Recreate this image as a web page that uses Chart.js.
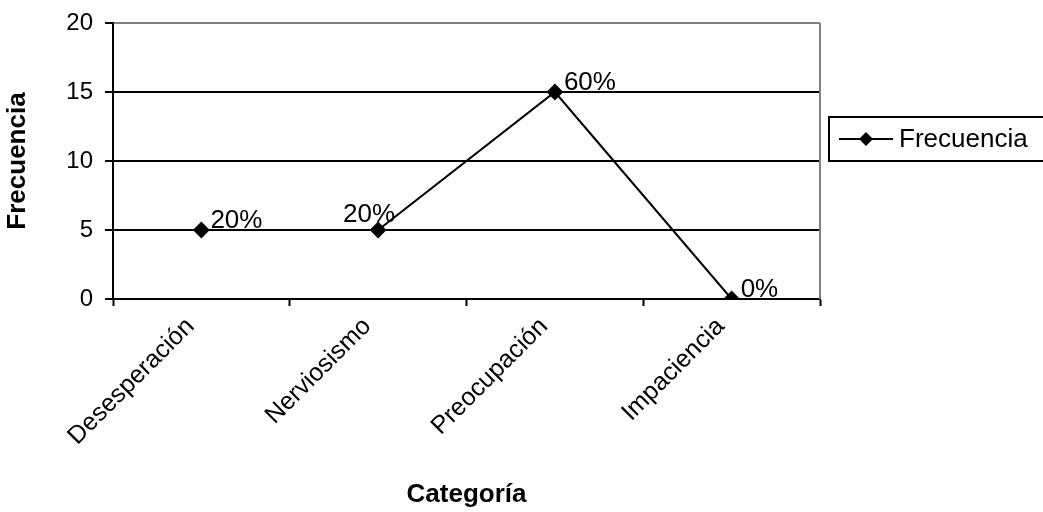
<!DOCTYPE html>
<html>
<head>
<meta charset="utf-8">
<script src="https://cdn.jsdelivr.net/npm/chart.js@4/dist/chart.umd.min.js"></script>
<style>
  html, body { margin: 0; padding: 0; background: #fff; }
  #wrap { width: 1043px; height: 512px; }
</style>
</head>
<body>
<div id="wrap"><canvas id="lineChart" width="1043" height="512"></canvas></div>
<script>
// Data
const categories = ['Desesperación', 'Nerviosismo', 'Preocupación', 'Impaciencia'];
const frecuencia = [5, 5, 15, 0];
const percentLabels = ['20%', '20%', '60%', '0%'];
const yTicks = [0, 5, 10, 15, 20];

const FONT = "'Liberation Sans', Arial, sans-serif";

// point labels like "20%" next to the markers
const pointLabels = {
    id: 'pointLabels',
    afterDatasetsDraw(chart) {
        const ctx = chart.ctx;
        const meta = chart.getDatasetMeta(0);
        ctx.save();
        ctx.font = '26px ' + FONT;
        ctx.fillStyle = '#000';
        ctx.textBaseline = 'alphabetic';
        meta.data.forEach(function (pt, i) {
            // second label sits over the marker in the original
            if (i === 1) {
                ctx.textAlign = 'right';
                ctx.fillText(percentLabels[i], pt.x + 17, pt.y - 8);
            } else {
                ctx.textAlign = 'left';
                ctx.fillText(percentLabels[i], pt.x + 9, pt.y - 2);
            }
        });
        ctx.restore();
    }
};

// grey right border of the plot area + legend box
const frameAndLegend = {
    id: 'frameAndLegend',
    afterDraw(chart) {
        const ctx = chart.ctx;
        const a = chart.chartArea;
        ctx.save();
        ctx.strokeStyle = '#808080';
        ctx.lineWidth = 2;
        ctx.beginPath();
        ctx.moveTo(a.right, a.top);
        ctx.lineTo(a.right, a.bottom);
        ctx.stroke();

        // legend
        const lx = 829, ly = 117, lw = 216, lh = 44;
        ctx.strokeStyle = '#000';
        ctx.lineWidth = 2;
        ctx.strokeRect(lx, ly, lw, lh);
        const cy = ly + lh / 2;
        ctx.beginPath();
        ctx.moveTo(lx + 10, cy);
        ctx.lineTo(lx + 64, cy);
        ctx.stroke();
        ctx.fillStyle = '#000';
        ctx.beginPath();
        ctx.moveTo(lx + 37, cy - 7);
        ctx.lineTo(lx + 44, cy);
        ctx.lineTo(lx + 37, cy + 7);
        ctx.lineTo(lx + 30, cy);
        ctx.closePath();
        ctx.fill();
        ctx.font = '26px ' + FONT;
        ctx.textAlign = 'left';
        ctx.textBaseline = 'middle';
        ctx.fillText(chart.data.datasets[0].label, lx + 70, cy + 1);
        ctx.restore();
    }
};

new Chart(document.getElementById('lineChart').getContext('2d'), {
    type: 'line',
    data: {
        labels: categories,
        datasets: [{
            label: 'Frecuencia',
            data: frecuencia,
            borderColor: '#000',
            backgroundColor: '#000',
            borderWidth: 2,
            tension: 0,
            pointStyle: 'rectRot',
            pointRadius: 7,
            pointHoverRadius: 7,
            pointBackgroundColor: '#000',
            pointBorderColor: '#000'
        }]
    },
    options: {
        responsive: false,
        animation: false,
        events: [],
        layout: { padding: { left: 0, right: 223, top: 23, bottom: 0 } },
        plugins: {
            legend: { display: false },
            tooltip: { enabled: false }
        },
        scales: {
            x: {
                offset: true,
                grid: {
                    offset: true,
                    drawOnChartArea: false,
                    drawTicks: true,
                    tickLength: 7,
                    tickColor: '#000',
                    tickWidth: 2
                },
                border: { color: '#000', width: 2 },
                ticks: {
                    color: '#000',
                    font: { family: FONT, size: 25 },
                    minRotation: 45,
                    maxRotation: 45,
                    autoSkip: false,
                    labelOffset: -11,
                    padding: 6
                },
                title: {
                    display: true,
                    text: 'Categoría',
                    color: '#000',
                    font: { family: FONT, size: 26, weight: 'bold' },
                    padding: { top: 0, bottom: 2 }
                },
                afterFit(scale) {
                    scale.height = 512 - 299;
                    scale.paddingLeft = 0;
                    scale.paddingRight = 0;
                }
            },
            y: {
                min: 0,
                max: 20,
                afterBuildTicks(scale) { scale.ticks = yTicks.map(v => ({ value: v })); },
                grid: {
                    color: ctx => (ctx.tick && ctx.tick.value === 20 ? '#808080' : '#000'),
                    lineWidth: 2,
                    drawTicks: true,
                    tickLength: 8,
                    tickColor: '#000'
                },
                border: { color: '#000', width: 2 },
                ticks: {
                    color: '#000',
                    font: { family: FONT, size: 24 },
                    padding: 12
                },
                title: {
                    display: true,
                    text: 'Frecuencia',
                    color: '#000',
                    font: { family: FONT, size: 26, weight: 'bold' },
                    padding: { top: 2, bottom: 0 }
                },
                afterFit(scale) {
                    scale.width = 113;
                    scale.paddingTop = 0;
                    scale.paddingBottom = 0;
                }
            }
        }
    },
    plugins: [pointLabels, frameAndLegend]
});
</script>
</body>
</html>
